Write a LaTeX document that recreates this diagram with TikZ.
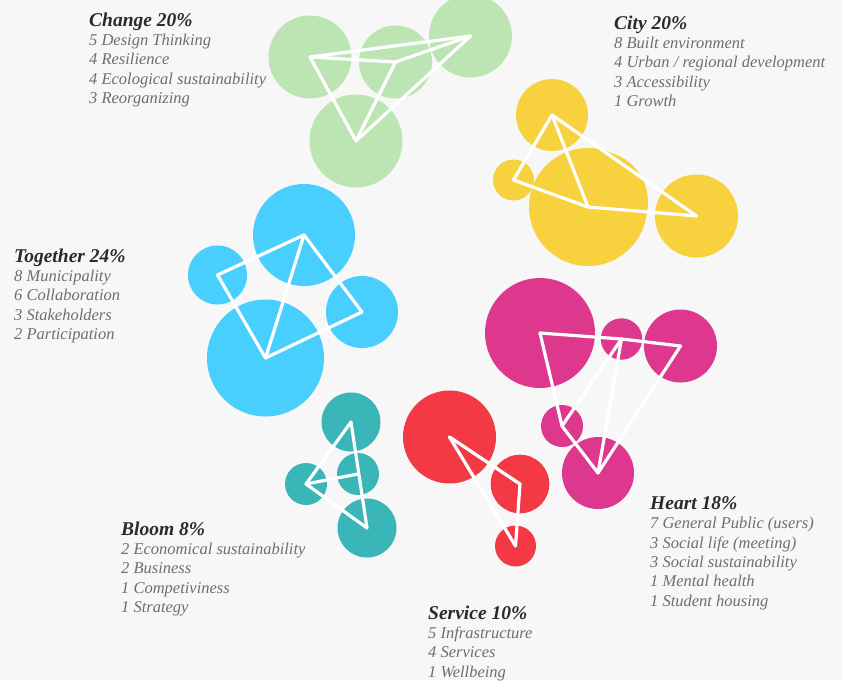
\documentclass[tikz,border=0pt]{standalone}
\usepackage{fontspec}
\setmainfont{Liberation Serif}
\usepackage{xcolor}
\usetikzlibrary{positioning}
\definecolor{bg}{HTML}{F7F7F7}
\definecolor{changecol}{HTML}{BDE4B3}
\definecolor{citycol}{HTML}{F8D13F}
\definecolor{togethercol}{HTML}{48CFFE}
\definecolor{heartcol}{HTML}{DD378E}
\definecolor{servicecol}{HTML}{F23944}
\definecolor{bloomcol}{HTML}{3AB5B8}
\definecolor{ink}{HTML}{2A2A2A}
\definecolor{soft}{HTML}{6E6E6E}
\newcommand{\headline}[1]{{\color{ink}\fontsize{19.5}{19.3}\selectfont\bfseries #1}}

\begin{document}
\begin{tikzpicture}[x=1pt,y=-1pt,
  bub/.style={circle,inner sep=0pt,minimum size=2*#1},
  link/.style={draw=white,line width=3.2pt,line cap=round},
  legend/.style={anchor=north west,align=left,inner sep=0pt,text=soft,
    font=\fontsize{16.5}{19.3}\selectfont\itshape}]
  \fill[bg] (0,0) rectangle (842,680);
  \useasboundingbox (0,0) rectangle (842,680);

  \node[bub=41.5,fill=changecol]    (ch1) at (310,57)    {};
  \node[bub=36.5,fill=changecol]    (ch2) at (395.5,62)  {};
  \node[bub=41.5,fill=changecol]    (ch3) at (470.5,36)  {};
  \node[bub=46.5,fill=changecol]    (ch4) at (356,141)   {};

  \node[bub=36,fill=citycol]        (ci1) at (552,115)   {};
  \node[bub=20.5,fill=citycol]      (ci2) at (513.5,180) {};
  \node[bub=59,fill=citycol]        (ci3) at (588,207)   {};
  \node[bub=51,fill=citycol]        (ci5) at (597,202)   {};
  \node[bub=41.5,fill=citycol]      (ci4) at (696.5,216) {};

  \node[bub=51,fill=togethercol]    (to1) at (304,235)   {};
  \node[bub=29.5,fill=togethercol]  (to2) at (217.5,275) {};
  \node[bub=36,fill=togethercol]    (to3) at (362,312)   {};
  \node[bub=58.5,fill=togethercol]  (to4) at (265.5,358) {};

  \node[bub=55,fill=heartcol]       (he1) at (540,333)   {};
  \node[bub=20.7,fill=heartcol]     (he2) at (621.5,339) {};
  \node[bub=36.5,fill=heartcol]     (he3) at (680.5,346) {};
  \node[bub=21,fill=heartcol]       (he4) at (562,426)   {};
  \node[bub=36,fill=heartcol]       (he5) at (598,473)   {};

  \node[bub=46.5,fill=servicecol]   (se1) at (449.5,437) {};
  \node[bub=29.3,fill=servicecol]   (se2) at (520,484)   {};
  \node[bub=20.5,fill=servicecol]   (se3) at (515.5,546) {};

  \node[bub=29.5,fill=bloomcol]     (bl1) at (351,422)   {};
  \node[bub=21,fill=bloomcol]       (bl2) at (306,484)   {};
  \node[bub=21,fill=bloomcol]       (bl3) at (358,474)   {};
  \node[bub=29.5,fill=bloomcol]     (bl4) at (367,528)   {};

  \path[link] (ch1.center) edge (ch3.center)
                           edge (ch2.center)
                           edge (ch4.center)
              (ch2.center) edge (ch3.center)
                           edge (ch4.center)
              (ch3.center) edge (ch4.center);
  \path[link] (ci1.center) edge (ci2.center)
                           edge (ci3.center)
                           edge (ci4.center)
              (ci2.center) edge (ci3.center)
              (ci3.center) edge (ci4.center);
  \path[link] (to2.center) edge (to1.center)
                           edge (to4.center)
              (to1.center) edge (to3.center)
                           edge (to4.center)
              (to3.center) edge (to4.center);
  \path[link] (he1.center) edge (he2.center)
                           edge (he4.center)
              (he2.center) edge (he3.center)
                           edge (he4.center)
                           edge (he5.center)
              (he4.center) edge (he5.center)
              (he5.center) edge (he3.center);
  \path[link] (se1.center) edge (se2.center)
                           edge (se3.center)
              (se2.center) edge (se3.center);
  \path[link] (bl1.center) edge (bl2.center)
                           edge (bl4.center)
              (bl2.center) edge (bl4.center)
                           edge (bl3.center);

  \node[legend] (change)   at (89,12.5)   {\headline{Change 20\%}\\5 Design Thinking\\4 Resilience\\4 Ecological sustainability\\3 Reorganizing};
  \node[legend] (city)     at (614,15.5)  {\headline{City 20\%}\\8 Built environment\\4 Urban / regional development\\3 Accessibility\\1 Growth};
  \node[legend] (together) at (14,248.5)  {\headline{Together 24\%}\\8 Municipality\\6 Collaboration\\3 Stakeholders\\2 Participation};
  \node[legend] (heart)    at (650,496.5) {\headline{Heart 18\%}\\7 General Public (users)\\3 Social life (meeting)\\3 Social sustainability\\1 Mental health\\1 Student housing};
  \node[legend] (bloom)    at (121,521.5) {\headline{Bloom 8\%}\\2 Economical sustainability\\2 Business\\1 Competiviness\\1 Strategy};
  \node[legend] (service)  at (428,605.5) {\headline{Service 10\%}\\5 Infrastructure\\4 Services\\1 Wellbeing};
\end{tikzpicture}
\end{document}
